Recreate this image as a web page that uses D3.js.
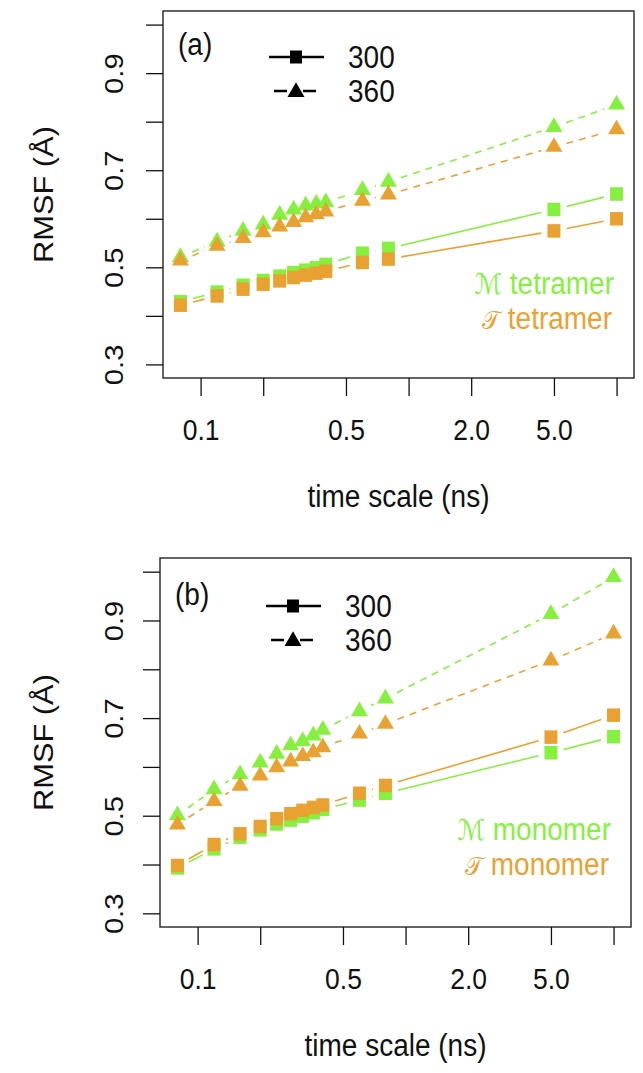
<!DOCTYPE html>
<html>
<head>
<meta charset="utf-8">
<script src="https://cdn.jsdelivr.net/npm/d3@7"></script>
<style>
  html, body { margin: 0; padding: 0; background: #fff; }
  svg { display: block; }
  text { font-family: "Liberation Sans", Arial, sans-serif; }
</style>
</head>
<body>
<svg id="chart" width="643" height="1073"></svg>
<script>
// ---------- data ----------
const timeScales = [0.08, 0.12, 0.16, 0.2, 0.24, 0.28, 0.32, 0.36, 0.4, 0.6, 0.8, 5, 10];

// panel (a) tetramer
const aM300 = [0.429, 0.449, 0.463, 0.473, 0.482, 0.489, 0.494, 0.499, 0.506, 0.529, 0.539, 0.619, 0.651];
const aT300 = [0.422, 0.441, 0.455, 0.465, 0.472, 0.479, 0.484, 0.488, 0.492, 0.510, 0.517, 0.575, 0.600];
const aM360 = [0.521, 0.553, 0.575, 0.588, 0.608, 0.619, 0.627, 0.631, 0.634, 0.659, 0.676, 0.789, 0.835];
const aT360 = [0.514, 0.544, 0.560, 0.572, 0.584, 0.593, 0.603, 0.609, 0.615, 0.637, 0.650, 0.748, 0.784];

// panel (b) monomer
const bM300 = [0.393, 0.432, 0.456, 0.471, 0.483, 0.491, 0.499, 0.506, 0.513, 0.532, 0.546, 0.629, 0.662];
const bT300 = [0.398, 0.441, 0.463, 0.478, 0.494, 0.504, 0.511, 0.517, 0.522, 0.546, 0.562, 0.661, 0.706];
const bM360 = [0.501, 0.554, 0.585, 0.609, 0.627, 0.644, 0.653, 0.664, 0.676, 0.714, 0.740, 0.913, 0.989];
const bT360 = [0.482, 0.530, 0.561, 0.582, 0.599, 0.611, 0.622, 0.630, 0.640, 0.668, 0.688, 0.818, 0.873];

const xTicks = [0.1, 0.2, 0.5, 1, 2, 5, 10];
const xTickLabels = ["0.1", "", "0.5", "", "2.0", "5.0", ""];
const yTicks = [0.3, 0.4, 0.5, 0.6, 0.7, 0.8, 0.9, 1.0];
const yTickLabels = ["0.3", "", "0.5", "", "0.7", "", "0.9", ""];
const yLimits = [0.3, 1.0];

const tempLabels = ["300", "360"];
const panelLetters = ["(a)", "(b)"];
const systemLabelsA = ["tetramer", "tetramer"];
const systemLabelsB = ["monomer", "monomer"];
const scriptLetters = ["\u2133", "\uD835\uDCAF"];

// ---------- style ----------
const GREEN = "#86F03E";
const ORANGE = "#E9A232";
const FS_TICK = 26.5, FS_LAB = 28;
const STRETCH = 1.1;   // reference text is slightly tall / condensed

const svg = d3.select("#chart");

function stretchedText(g, x, y, rot) {
  return g.append("text")
    .attr("transform", `translate(${x},${y}) scale(1,${STRETCH})` + (rot ? ` rotate(${rot})` : ""));
}

function drawPanel(cfg) {
  const {left, right, top, bottom} = cfg.box;
  const g = svg.append("g");

  const lx = Math.log10(d3.min(timeScales)), hx = Math.log10(d3.max(timeScales));
  const ex = 0.04 * (hx - lx);
  const x = d3.scaleLog().domain([Math.pow(10, lx - ex), Math.pow(10, hx + ex)]).range([left, right]);
  const ey = 0.04 * (yLimits[1] - yLimits[0]);
  const y = d3.scaleLinear().domain([yLimits[0] - ey, yLimits[1] + ey]).range([bottom, top]);

  // series (green first, orange drawn over)
  const series = [
    {vals: cfg.M300, color: GREEN, shape: "sq", dash: null},
    {vals: cfg.M360, color: GREEN, shape: "tri", dash: "7,6"},
    {vals: cfg.T300, color: ORANGE, shape: "sq", dash: null},
    {vals: cfg.T360, color: ORANGE, shape: "tri", dash: "7,6"}
  ];
  const GAP = 13;
  const sqW = 13, sqH = 13.5, triS = 6.3;
  const triPath = (cx, cy) => {
    const r = 1.555 * triS, xc = 1.347 * triS, yc = 0.778 * triS;
    return `M${cx},${cy - r}L${cx + xc},${cy + yc}L${cx - xc},${cy + yc}Z`;
  };

  series.forEach(s => {
    const pts = timeScales.map((t, i) => [x(t), y(s.vals[i])]);
    for (let i = 0; i < pts.length - 1; i++) {
      const [x0, y0] = pts[i], [x1, y1] = pts[i + 1];
      const d = Math.hypot(x1 - x0, y1 - y0);
      if (d <= 2 * GAP) continue;
      const ux = (x1 - x0) / d, uy = (y1 - y0) / d;
      g.append("line")
        .attr("x1", x0 + ux * GAP).attr("y1", y0 + uy * GAP)
        .attr("x2", x1 - ux * GAP).attr("y2", y1 - uy * GAP)
        .attr("stroke", s.color).attr("stroke-width", 1.6)
        .attr("stroke-dasharray", s.dash);
    }
    pts.forEach(([px, py]) => {
      if (s.shape === "sq") {
        g.append("rect").attr("x", px - sqW / 2).attr("y", py - sqH / 2)
          .attr("width", sqW).attr("height", sqH).attr("fill", s.color);
      } else {
        g.append("path").attr("d", triPath(px, py)).attr("fill", s.color);
      }
    });
  });

  // box
  g.append("rect").attr("x", left).attr("y", top)
    .attr("width", right - left).attr("height", bottom - top)
    .attr("fill", "none").attr("stroke", "#111").attr("stroke-width", 1.3);

  // x axis
  const xAxis = d3.axisBottom(x).tickValues(xTicks)
    .tickFormat((d, i) => xTickLabels[i]).tickSize(18);
  const xa = g.append("g").attr("transform", `translate(0,${bottom})`).call(xAxis);
  xa.select(".domain").remove();
  xa.selectAll(".tick line").attr("stroke", "#111").attr("stroke-width", 1.3);
  xa.selectAll(".tick text").attr("font-size", FS_TICK).attr("fill", "#111")
    .attr("font-family", "Liberation Sans, Arial, sans-serif")
    .attr("y", null).attr("dy", null)
    .attr("transform", `translate(0,62) scale(1,${STRETCH})`);

  // y axis
  const yAxis = d3.axisLeft(y).tickValues(yTicks)
    .tickFormat((d, i) => yTickLabels[i]).tickSize(17);
  const ya = g.append("g").attr("transform", `translate(${left},0)`).call(yAxis);
  ya.select(".domain").remove();
  ya.selectAll(".tick line").attr("stroke", "#111").attr("stroke-width", 1.3);
  ya.selectAll(".tick text")
    .attr("font-size", FS_TICK).attr("fill", "#111")
    .attr("font-family", "Liberation Sans, Arial, sans-serif")
    .attr("x", null).attr("dy", null)
    .attr("text-anchor", "middle")
    .attr("transform", `translate(${-(left - 123)},0) scale(1,${STRETCH}) rotate(-90)`);

  // axis titles
  stretchedText(g, (left + right) / 2, bottom + 129)
    .attr("text-anchor", "middle").attr("font-size", FS_LAB).attr("fill", "#111")
    .text("time scale (ns)");
  stretchedText(g, 53, (top + bottom) / 2, -90)
    .attr("text-anchor", "middle").attr("font-size", FS_LAB).attr("fill", "#111")
    .text("RMSF (\u00C5)");

  // panel letter
  stretchedText(g, left + 15, top + cfg.letterY)
    .attr("font-size", FS_LAB).attr("fill", "#111").text(cfg.letter);

  // temperature legend
  const legX = left + 133, legY1 = top + cfg.legY, legY2 = top + cfg.legY + 34;
  g.append("line").attr("x1", legX - 27).attr("x2", legX + 28)
    .attr("y1", legY1).attr("y2", legY1).attr("stroke", "#000").attr("stroke-width", 2.6);
  g.append("rect").attr("x", legX - 6).attr("y", legY1 - 6.5).attr("width", 12).attr("height", 13).attr("fill", "#000");
  g.append("line").attr("x1", legX - 22).attr("x2", legX + 20)
    .attr("y1", legY2).attr("y2", legY2).attr("stroke", "#000").attr("stroke-width", 2.6)
    .attr("stroke-dasharray", "13,16");
  g.append("path").attr("d", triPath(legX, legY2 + 1)).attr("fill", "#000");
  stretchedText(g, legX + 52, legY1 + 11)
    .attr("font-size", FS_LAB).attr("fill", "#111").text(tempLabels[0]);
  stretchedText(g, legX + 52, legY2 + 11)
    .attr("font-size", FS_LAB).attr("fill", "#111").text(tempLabels[1]);

  // system labels
  const sysRight = right - 20;
  const t1 = stretchedText(g, sysRight, top + cfg.sysY[0])
    .attr("text-anchor", "end").attr("font-size", FS_LAB).attr("fill", GREEN);
  t1.append("tspan").attr("font-family", "DejaVu Sans, serif").attr("font-size", 26).text(scriptLetters[0]);
  t1.append("tspan").text(" " + cfg.sys[0]);
  const t2 = stretchedText(g, sysRight - 2, top + cfg.sysY[1])
    .attr("text-anchor", "end").attr("font-size", FS_LAB).attr("fill", ORANGE);
  t2.append("tspan").attr("font-family", "DejaVu Sans, serif").attr("font-size", 24).text(scriptLetters[1]);
  t2.append("tspan").text(" " + cfg.sys[1]);
}

drawPanel({
  box: {left: 163, right: 634, top: 11, bottom: 378},
  M300: aM300, T300: aT300, M360: aM360, T360: aT360,
  letter: panelLetters[0], letterY: 44, legY: 46,
  sys: systemLabelsA, sysY: [283, 318]
});
drawPanel({
  box: {left: 160, right: 631, top: 558, bottom: 927},
  M300: bM300, T300: bT300, M360: bM360, T360: bT360,
  letter: panelLetters[1], letterY: 47, legY: 48,
  sys: systemLabelsB, sysY: [282, 317]
});
</script>
</body>
</html>
